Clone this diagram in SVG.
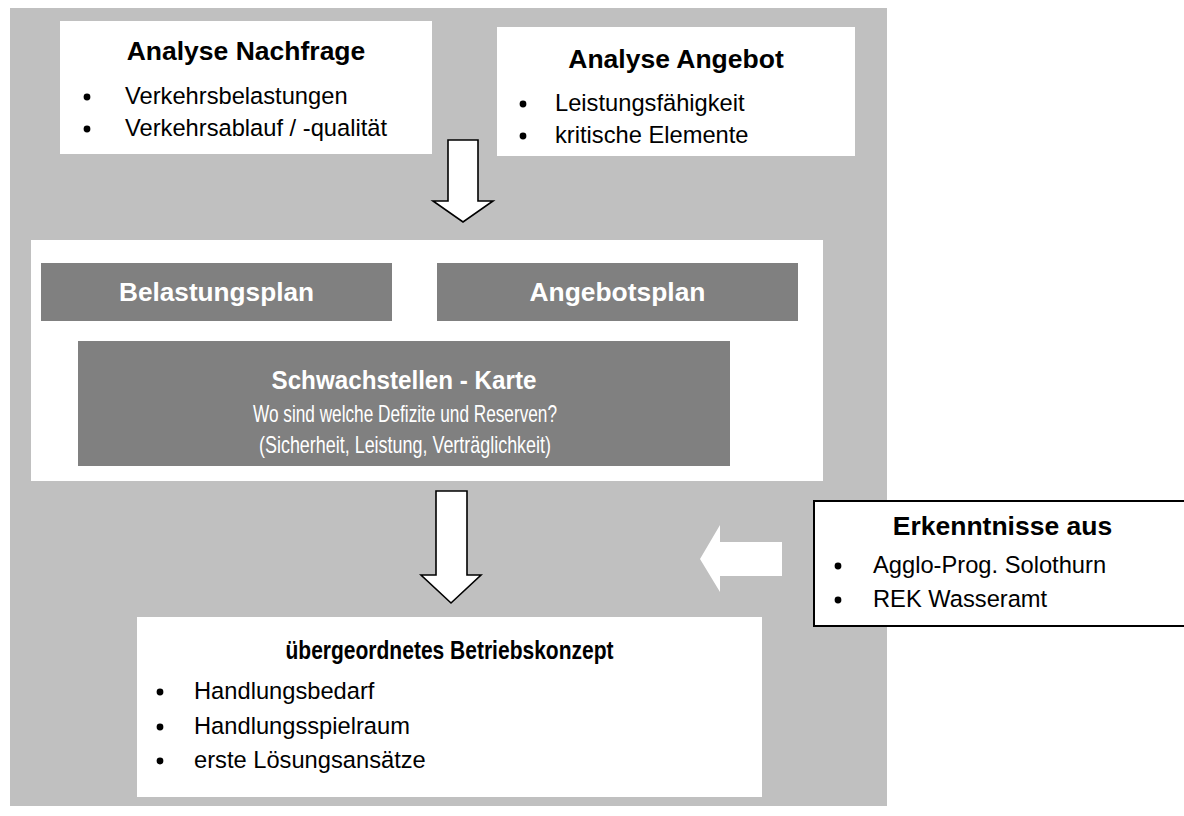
<svg xmlns="http://www.w3.org/2000/svg" width="1184" height="816" viewBox="0 0 1184 816">
<style>
.t{font-family:"Liberation Sans",Arial,sans-serif;font-weight:bold;font-size:26.5px;fill:#000;text-anchor:middle}
.tw{font-family:"Liberation Sans",Arial,sans-serif;font-weight:bold;font-size:26.5px;fill:#fff;text-anchor:middle}
.b{font-family:"Liberation Sans",Arial,sans-serif;font-size:23.7px;fill:#000}
.s{font-family:"Liberation Sans",Arial,sans-serif;font-size:24px;fill:#fff;text-anchor:middle}
.box{fill:#fff}
.dark{fill:#808080}
.arr{fill:#fff;stroke:#000;stroke-width:1.6;stroke-linejoin:miter}
</style>
<rect x="0" y="0" width="1184" height="816" fill="#fff"/>
<rect id="background" x="10" y="8" width="877" height="798" fill="#C0C0C0"/>

<g id="analyse-nachfrage">
<rect class="box" x="60" y="21" width="372" height="133"/>
<text class="t" x="246" y="60">Analyse Nachfrage</text>
<circle cx="87" cy="97" r="3.4"/><text class="b" x="125" y="104">Verkehrsbelastungen</text>
<circle cx="87" cy="129" r="3.4"/><text class="b" x="125" y="136">Verkehrsablauf / -qualität</text>
</g>

<g id="analyse-angebot">
<rect class="box" x="497" y="27" width="358" height="129"/>
<text class="t" x="676" y="68">Analyse Angebot</text>
<circle cx="523" cy="104" r="3.4"/><text class="b" x="555" y="111">Leistungsfähigkeit</text>
<circle cx="523" cy="136" r="3.4"/><text class="b" x="555" y="143">kritische Elemente</text>
</g>

<g id="panel">
<rect class="box" x="31" y="240" width="792" height="241"/>
</g>
<g id="belastungsplan">
<rect class="dark" x="41" y="263" width="351" height="58"/>
<text class="tw" x="216.5" y="301" textLength="195" lengthAdjust="spacingAndGlyphs">Belastungsplan</text>
</g>
<g id="angebotsplan">
<rect class="dark" x="437" y="263" width="361" height="58"/>
<text class="tw" x="617.5" y="301" textLength="176" lengthAdjust="spacingAndGlyphs">Angebotsplan</text>
</g>
<g id="schwachstellen">
<rect class="dark" x="78" y="341" width="652" height="125"/>
<text class="tw" x="404" y="389" textLength="265" lengthAdjust="spacingAndGlyphs">Schwachstellen - Karte</text>
<text class="s" x="405" y="422" textLength="304" lengthAdjust="spacingAndGlyphs">Wo sind welche Defizite und Reserven?</text>
<text class="s" x="405" y="453" textLength="292" lengthAdjust="spacingAndGlyphs">(Sicherheit, Leistung, Verträglichkeit)</text>
</g>

<g id="betriebskonzept">
<rect class="box" x="137" y="617" width="625" height="180"/>
<text class="t" x="449.5" y="659" textLength="328" lengthAdjust="spacingAndGlyphs">übergeordnetes Betriebskonzept</text>
<circle cx="160" cy="692" r="3.4"/><text class="b" x="194" y="699">Handlungsbedarf</text>
<circle cx="160" cy="727" r="3.4"/><text class="b" x="194" y="734">Handlungsspielraum</text>
<circle cx="160" cy="761" r="3.4"/><text class="b" x="194" y="768">erste Lösungsansätze</text>
</g>

<g id="erkenntnisse">
<rect x="814" y="501" width="380" height="125" fill="#fff" stroke="#000" stroke-width="2"/>
<text class="t" x="1002.5" y="535">Erkenntnisse aus</text>
<circle cx="838" cy="566" r="3.4"/><text class="b" x="873" y="573">Agglo-Prog. Solothurn</text>
<circle cx="838" cy="600" r="3.4"/><text class="b" x="873" y="607">REK Wasseramt</text>
</g>

<g id="connectors">
<path class="arr" d="M448,140 L478,140 L478,201 L493,201 L463,222 L433,201 L448,201 Z"/>
<path class="arr" d="M436,491 L467,491 L467,575 L481,575 L451,603 L421,575 L436,575 Z"/>
<path d="M782,542 L782,576 L720,576 L720,592 L700,559 L720,525 L720,542 Z" fill="#fff"/>
</g>
</svg>
